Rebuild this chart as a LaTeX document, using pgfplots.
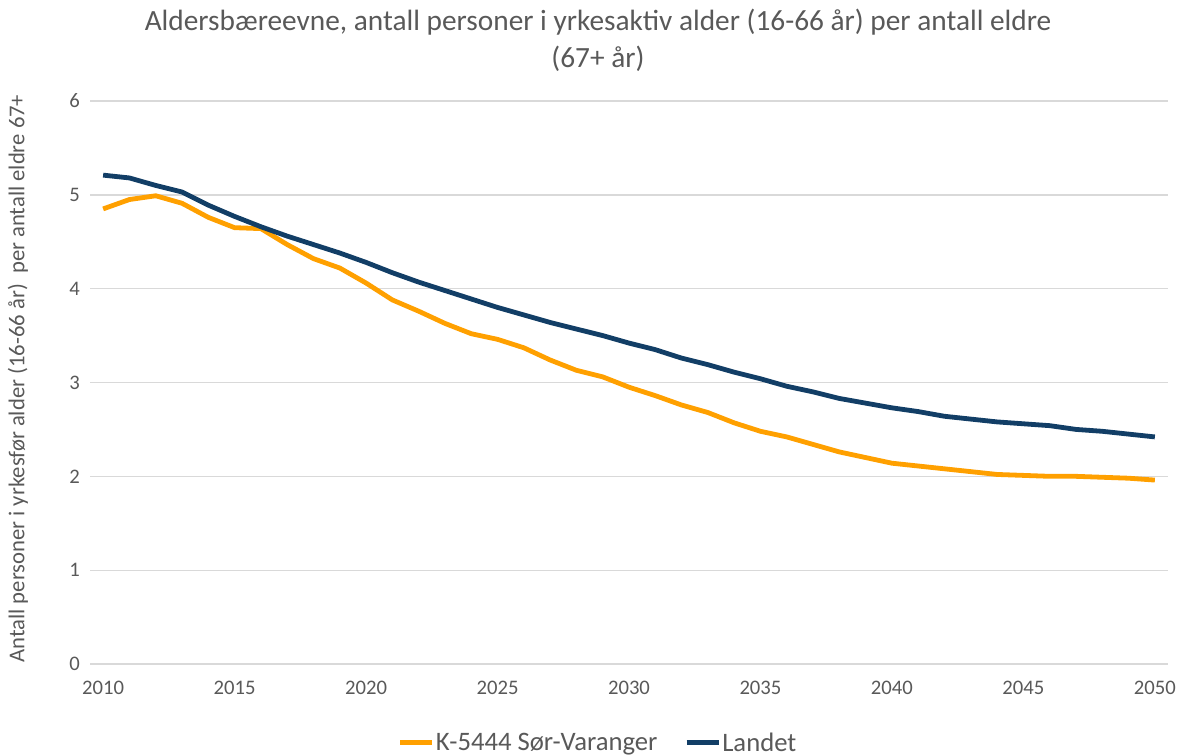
\documentclass[border=0pt]{standalone}
\usepackage{pgfplots}
\usepackage{pgfplotstable}
\usepackage{fontspec}
\setmainfont{Carlito}
\pgfplotsset{compat=1.18}

\definecolor{txtgrey}{RGB}{89,89,89}
\definecolor{gridgrey}{RGB}{217,217,217}
\definecolor{sorvar}{RGB}{255,160,0}
\definecolor{landet}{RGB}{18,62,102}

% aar, sorvaranger, landet
\pgfplotstableread{
aar  sv    la
2010 4.85  5.21
2011 4.95  5.18
2012 4.99  5.10
2013 4.91  5.03
2014 4.76  4.89
2015 4.65  4.77
2016 4.64  4.66
2017 4.47  4.56
2018 4.32  4.47
2019 4.22  4.38
2020 4.06  4.28
2021 3.88  4.17
2022 3.76  4.07
2023 3.63  3.98
2024 3.52  3.89
2025 3.46  3.80
2026 3.37  3.72
2027 3.24  3.64
2028 3.13  3.57
2029 3.06  3.50
2030 2.95  3.42
2031 2.86  3.35
2032 2.76  3.26
2033 2.68  3.19
2034 2.57  3.11
2035 2.48  3.04
2036 2.42  2.96
2037 2.34  2.90
2038 2.26  2.83
2039 2.20  2.78
2040 2.14  2.73
2041 2.11  2.69
2042 2.08  2.64
2043 2.05  2.61
2044 2.02  2.58
2045 2.01  2.56
2046 2.00  2.54
2047 2.00  2.50
2048 1.99  2.48
2049 1.98  2.45
2050 1.96  2.42
}\datatable

\begin{document}
\begin{tikzpicture}
\begin{axis}[
    scale only axis,
    width=808.5bp, height=422.25bp,
    xmin=2009.5, xmax=2050.5,
    ymin=0, ymax=6,
    xtick={2010,2015,...,2050},
    ytick={0,1,...,6},
    axis line style={draw=none},
    major tick length=0pt,
    ymajorgrids=true,
    grid style={gridgrey, line width=1bp},
    tick label style={font=\fontsize{15.5bp}{18bp}\selectfont, text=txtgrey},
    /pgf/number format/assume math mode=true,
    xticklabel style={/pgf/number format/1000 sep=, yshift=-9bp},
    yticklabel style={xshift=-4bp},
    legend style={draw=none, fill=none, legend columns=2,
        at={(0.471,-0.140)}, anchor=center,
        font=\fontsize{20bp}{23bp}\selectfont, text=txtgrey,
        nodes={inner sep=1bp},
        /tikz/every even column/.append style={column sep=19bp}},
    legend image code/.code={\draw[#1] (0bp,0bp) -- (24bp,0bp);},
]
\addplot[sorvar, line width=3.6bp, line join=round] table[x=aar, y=sv] {\datatable};
\addlegendentry{K-5444 Sør-Varanger}
\addplot[landet, line width=3.6bp, line join=round] table[x=aar, y=la] {\datatable};
\addlegendentry{Landet}
\end{axis}

\node[text=txtgrey, font=\fontsize{22bp}{26bp}\selectfont, anchor=base] at (381bp,475bp)
    {Aldersbæreevne, antall personer i yrkesaktiv alder (16-66 år) per antall eldre};
\node[text=txtgrey, font=\fontsize{22bp}{26bp}\selectfont, anchor=base] at (381bp,447bp)
    {(67+ år)};
\node[text=txtgrey, font=\fontsize{17bp}{20bp}\selectfont, rotate=90, anchor=center] at (-54bp,214bp)
    {Antall personer i yrkesfør alder (16-66 år)\ \ per antall eldre 67+};

\pgfresetboundingbox
\useasboundingbox (-67.5bp,-69bp) rectangle (822bp,498bp);
\end{tikzpicture}
\end{document}
